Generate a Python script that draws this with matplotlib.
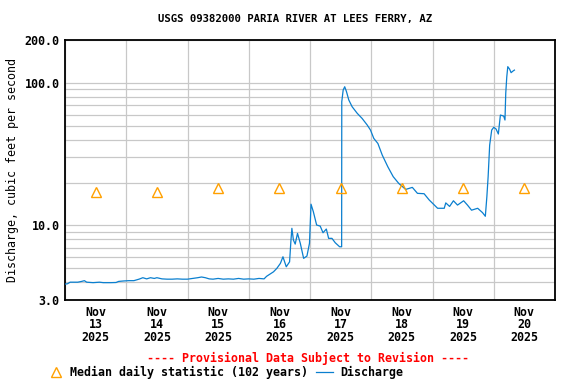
import matplotlib
matplotlib.use("Agg")
import matplotlib.pyplot as plt
import matplotlib.dates as mdates
from matplotlib.ticker import FixedLocator, NullFormatter
import pandas as pd
import numpy as np

# ---------------- data ----------------
start = pd.Timestamp("2025-11-13 00:00")
hours = [0.0, 1.0, 2.0, 5.0, 6.5, 7.6, 8.5, 11.0, 13.5, 15.0, 18.0, 20.0, 21.0, 23.0,
         25.0, 27.0, 29.0, 30.5, 32.0, 33.5, 35.0, 36.0, 38.0, 40.0, 42.0, 44.0, 46.0,
         48.0, 50.0, 52.0, 53.5, 55.0, 56.5, 58.0, 60.0, 62.0, 64.0, 66.0, 68.0, 70.0,
         72.0, 74.0, 76.0, 78.0, 79.0, 81.7, 83.0, 84.4, 85.4, 86.7, 88.0, 88.5, 88.9,
         89.5, 90.2, 91.1, 92.2, 93.5, 94.8, 95.8, 96.4, 97.3, 98.6, 100.0, 101.1, 102.4,
         103.3, 104.6, 105.9, 107.6, 108.4, 108.45, 109.0, 109.6, 110.3, 111.2, 112.5,
         114.5, 116.4, 118.4, 119.7, 121.0, 122.6, 124.3, 126.5, 128.6, 130.8, 133.5,
         136.1, 138.1, 140.7, 142.7, 146.0, 148.6, 149.2, 150.7, 152.2, 153.8, 156.2,
         157.7, 159.3, 161.7, 163.6, 164.7, 165.3, 165.8, 166.4, 167.2, 168.0, 168.9,
         169.8, 170.6, 171.9, 172.4, 172.7, 173.1, 173.5, 174.2, 174.8, 175.5, 176.1]
discharge = [3.88, 3.9, 4.0, 4.0, 4.05, 4.1, 4.0, 3.97, 4.0, 3.97, 3.97, 3.98, 4.05, 4.08,
             4.1, 4.1, 4.2, 4.3, 4.22, 4.3, 4.25, 4.3, 4.22, 4.2, 4.2, 4.22, 4.2,
             4.2, 4.25, 4.3, 4.35, 4.3, 4.22, 4.2, 4.25, 4.2, 4.22, 4.2, 4.25, 4.2,
             4.22, 4.2, 4.25, 4.22, 4.4, 4.73, 5.0, 5.42, 6.03, 5.13, 5.56, 7.7, 9.55,
             7.9, 7.4, 8.8, 7.49, 5.88, 6.1, 7.5, 14.1, 12.5, 10.07, 9.9, 8.89, 9.44,
             8.12, 8.12, 7.56, 7.09, 7.09, 73.8, 89.2, 94.0, 86.8, 75.9, 68.1,
             61.2, 56.4, 50.7, 46.7, 40.8, 37.6, 31.2, 25.8, 22.0, 19.7, 17.9,
             18.5, 16.8, 16.7, 15.1, 13.2, 13.2, 14.4, 13.6, 14.9, 13.9, 14.9,
             13.9, 12.8, 13.2, 12.3, 11.6, 15.9, 22.0, 36.6, 46.7, 48.8, 47.5,
             43.8, 59.5, 58.5, 54.9, 84.5, 110.0, 130.0, 125.0, 118.0, 121.0, 123.0]

median_days = ["2025-11-13", "2025-11-14", "2025-11-15", "2025-11-16",
               "2025-11-17", "2025-11-18", "2025-11-19", "2025-11-20"]
median_values = [17.3, 17.3, 18.2, 18.2, 18.2, 18.2, 18.2, 18.2]

y_ticks = [3.0, 10.0, 100.0, 200.0]
y_tick_labels = ["3.0", "10.0", "100.0", "200.0"]

title = "USGS 09382000 PARIA RIVER AT LEES FERRY, AZ"
ylabel = "Discharge, cubic feet per second"

# ---------------- plot ----------------
plt.rcParams['font.family'] = ['DejaVu Sans Mono']
plt.rcParams['font.weight'] = 'bold'

fig = plt.figure(figsize=(5.76, 3.84), dpi=100)
ax = fig.add_axes([65/576, 1-300/384, 490/576, 260/384])

t = start + pd.to_timedelta(hours, unit="h")
mt = pd.to_datetime(median_days) + pd.Timedelta(hours=12)

grid_c = "#C8C8C8"
ax.set_yscale("log")
ax.set_ylim(3.0, 200.0)
ax.set_xlim(start, start + pd.Timedelta(days=8))

ax.yaxis.set_major_locator(FixedLocator(y_ticks))
ax.yaxis.set_minor_locator(FixedLocator(
    [v for d in (1, 10, 100) for v in np.arange(1, 10) * d if 3 <= v <= 200]))
ax.yaxis.set_minor_formatter(NullFormatter())
ax.set_yticklabels(y_tick_labels)
ax.grid(True, which="both", axis="y", color=grid_c, lw=0.9)

day_edges = pd.date_range(start, periods=9, freq="D")
ax.xaxis.set_major_locator(FixedLocator(mdates.date2num(day_edges)))
ax.xaxis.set_major_formatter(NullFormatter())
ax.xaxis.set_minor_locator(FixedLocator(mdates.date2num(mt)))
ax.set_xticklabels([f"{d:%b}\n{d.day}\n{d:%Y}" for d in mt], minor=True)
ax.grid(True, which="major", axis="x", color=grid_c, lw=0.9)
ax.tick_params(which="both", length=0)
ax.tick_params(axis="x", which="minor", pad=4, labelsize=8.4)
ax.tick_params(axis="y", which="major", pad=4, labelsize=8.4)
for lab in ax.get_xticklabels(minor=True):
    lab.set_linespacing(0.95)

ax.plot(t, discharge, color="#0A7FCF", lw=0.9, zorder=3)
ax.plot(mt, median_values, ls="none", marker="^", ms=7.5, mfc="none",
        mec="#FFA000", mew=1.0, zorder=4)

for s in ax.spines.values():
    s.set_linewidth(1.3)
    s.set_color("black")

ax.set_ylabel(ylabel, fontsize=8.4)
ax.yaxis.set_label_coords(-0.094, 0.5)
fig.text(295/576, 1-19/384, title, ha="center", va="center", fontsize=7.7,
         fontweight="bold")
fig.text(308/576, 1-358/384, "---- Provisional Data Subject to Revision ----",
         ha="center", va="center", fontsize=8.4, color="red")

# legend
fig.lines.append(plt.Line2D([56/576], [1-372/384], marker="^", ms=7.5, mfc="none",
                            mec="#FFA000", mew=1.0, transform=fig.transFigure))
fig.text(70/576, 1-372/384, "Median daily statistic (102 years)", ha="left",
         va="center", fontsize=8.4)
fig.lines.append(plt.Line2D([316/576, 333/576], [1-372/384, 1-372/384],
                            color="#0A7FCF", lw=0.9, transform=fig.transFigure))
fig.text(340/576, 1-372/384, "Discharge", ha="left", va="center", fontsize=8.4)

fig.savefig("out.png", dpi=100)
